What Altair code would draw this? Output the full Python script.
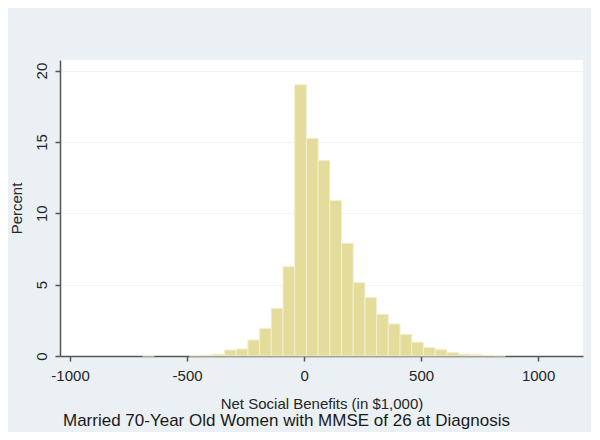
import altair as alt
import pandas as pd

# Histogram bins (left edge, in $1,000) and percent of observations
bin_start = [-690, -490, -440, -390, -340, -290, -240, -190, -140, -90,
             -40, 10, 60, 110, 160, 210, 260, 310, 360, 410, 460,
             510, 560, 610, 660, 710, 760, 810]
percent = [0.02, 0.03, 0.05, 0.12, 0.42, 0.49, 1.12, 1.94, 3.34, 6.26,
           19.0, 15.25, 13.7, 10.9, 7.9, 5.14, 4.09, 2.92, 2.24, 1.52, 0.96,
           0.6, 0.45, 0.25, 0.13, 0.08, 0.04, 0.02]
bin_width = 50
x_ticks = [-1000, -500, 0, 500, 1000]
y_ticks = [0, 5, 10, 15, 20]

df = pd.DataFrame({"start": bin_start, "pct": percent})
df["end"] = df["start"] + bin_width

FONT = "Liberation Sans"
AXIS_COLOR = "#555555"
TEXT_COLOR = "#262626"

bars = alt.Chart(df).mark_rect(
    color="#E3DC9A", stroke="#F2EECF", strokeWidth=1
).encode(
    x=alt.X(
        "start:Q",
        scale=alt.Scale(domain=[-1043, 1192], nice=False, zero=False),
        axis=alt.Axis(
            values=x_ticks, title="Net Social Benefits (in $1,000)", grid=False,
            labelExpr="'' + datum.value",
            labelFont=FONT, labelFontSize=15, labelColor=TEXT_COLOR, labelPadding=7,
            titleFont=FONT, titleFontSize=15, titleFontWeight="normal",
            titleColor=TEXT_COLOR, titlePadding=13,
            domainColor=AXIS_COLOR, domainWidth=1.5, tickColor=AXIS_COLOR,
            tickWidth=1.5, tickSize=5, labelFlush=False,
        ),
    ),
    x2="end:Q",
    y=alt.Y(
        "pct:Q",
        scale=alt.Scale(domain=[0, 20.74], nice=False),
        axis=alt.Axis(
            values=y_ticks, title="Percent", grid=True, gridColor="#F1F4F6",
            gridWidth=1,
            labelFont=FONT, labelFontSize=15, labelColor=TEXT_COLOR,
            labelAngle=270, labelAlign="center", labelBaseline="bottom",
            labelPadding=6,
            titleFont=FONT, titleFontSize=15, titleFontWeight="normal",
            titleColor=TEXT_COLOR, titlePadding=10,
            domainColor=AXIS_COLOR, domainWidth=1.5, tickColor=AXIS_COLOR,
            tickWidth=1.5, tickSize=5, labelFlush=False,
        ),
    ),
    y2=alt.datum(0),
)

chart = bars.properties(
    width=523,
    height=296,
    autosize=alt.AutoSizeParams(type="none"),
    padding={"left": 52, "top": 52, "right": 8, "bottom": 76},
    background="#EAF0F3",
    title=alt.TitleParams(
        "Married 70-Year Old Women with MMSE of 26 at Diagnosis",
        orient="bottom", anchor="start", fontSize=17, font=FONT,
        fontWeight="normal", color="#1a1a1a", offset=2, dx=54,
    ),
).configure_view(fill="white", strokeWidth=0)

chart.save("out.html", embed_options={"renderer": "svg", "actions": False})
